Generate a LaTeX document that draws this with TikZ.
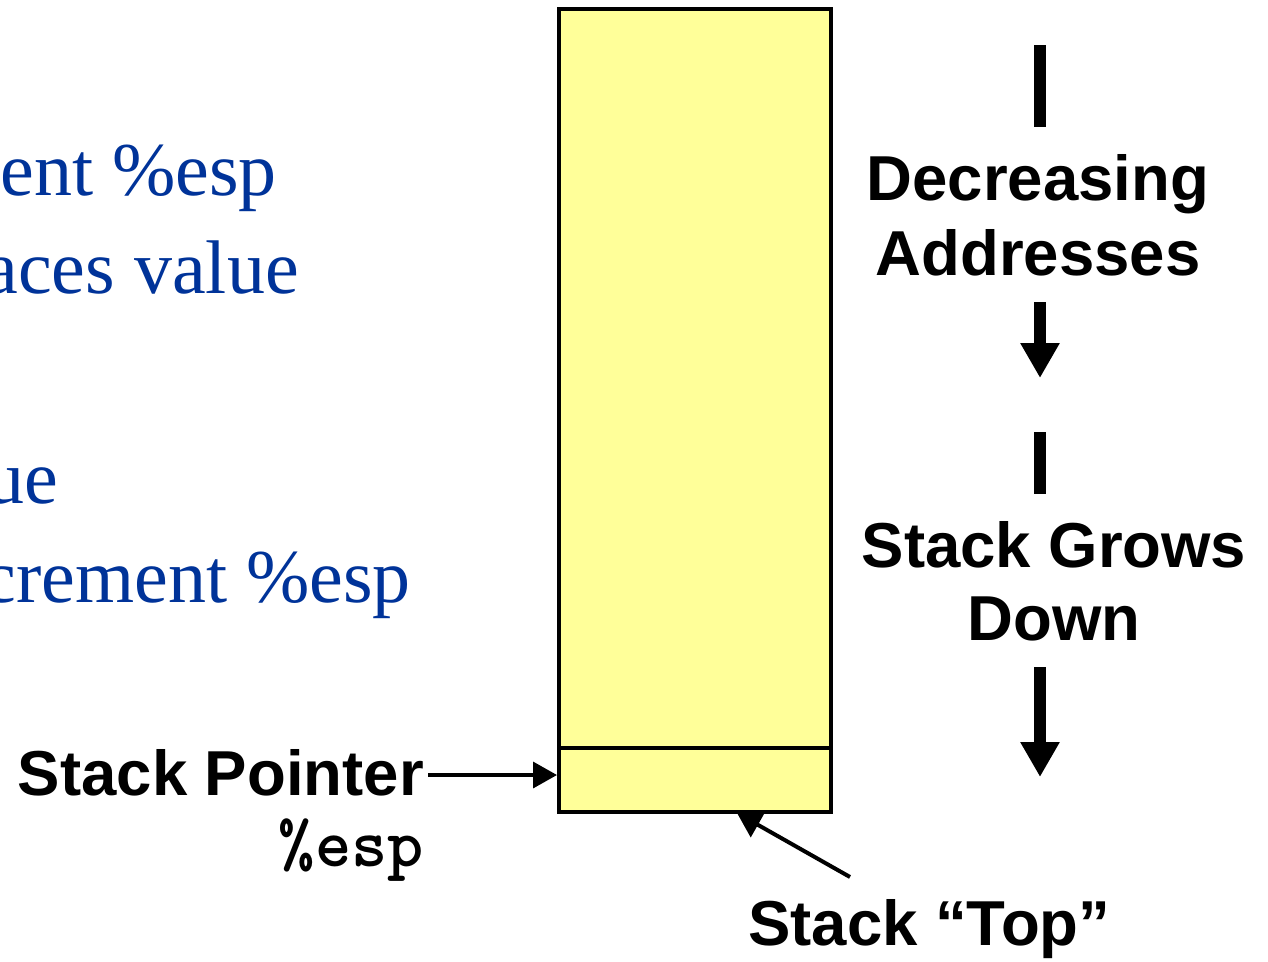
\documentclass[tikz,border=0pt]{standalone}
\usepackage{fontspec}
\setmainfont{Liberation Sans}
\newfontfamily\serifblue{Liberation Serif}
\usetikzlibrary{arrows.meta}
\definecolor{slideblue}{RGB}{0,51,153}
\definecolor{stackyellow}{RGB}{255,255,153}
\tikzset{
  bluetxt/.style={inner sep=0pt, anchor=base east, text=slideblue, font=\serifblue\fontsize{76}{80}\selectfont},
  blacktxt/.style={inner sep=0pt, font=\bfseries\fontsize{63.5}{72}\selectfont},
  cell/.style={draw=black, line width=4pt, fill=stackyellow, minimum width=272pt, inner sep=0pt},
  bar/.style={line width=12pt},
  bigarrow/.style={line width=12pt, -{Triangle[length=35pt,width=37pt]}},
  thinarrow/.style={line width=3.5pt, -{Triangle[length=24pt,width=26pt]}},
}
\begin{document}
\begin{tikzpicture}[x=1pt,y=-1pt]
\useasboundingbox (0,0) rectangle (1268,961);
% left blue text (cut off)
\node[bluetxt] (l1) at (277,195) {ment \%esp};
\node[bluetxt] (l2) at (299,293) {aces value};
\node[bluetxt] (l3) at (58,503) {ue};
\node[bluetxt] (l4) at (411,602) {crement \%esp};
% stack
\node[cell, minimum height=803pt] (stack) at (695,410.5) {};
\node[cell, minimum height=64pt] (topcell) at (695,780) {};
% stack pointer
\node[blacktxt, anchor=base east] (sp) at (424,795) {Stack Pointer};
\node[inner sep=0pt, anchor=base east, font=\ttfamily\bfseries\fontsize{69}{72}\selectfont] (esp) at (424,866) {\%esp};
\coordinate (sptip) at (557,775);
\draw[thinarrow] ([xshift=4pt]sp.east |- sptip) -- (sptip);
% stack top
\node[blacktxt, anchor=base west] (stop) at (748,945) {Stack “Top”};
\coordinate (stopfrom) at (850,877);
\coordinate (stopto) at (737,813);
\draw[line width=4pt, -{Triangle[length=24pt,width=28pt]}] (stopfrom) -- (stopto);
% right labels
\node[blacktxt, anchor=base] (dec) at (1038,200) {Decreasing};
\node[blacktxt, anchor=base] (addr) at (1038,275) {Addresses};
\coordinate (b1a) at (1040,45);
\coordinate (b1b) at (1040,127);
\draw[bar] (b1a) -- (b1b);
\coordinate (a1a) at (1040,302);
\coordinate (a1b) at (1040,378);
\draw[bigarrow] (a1a) -- (a1b);
\node[blacktxt, anchor=base] (grow) at (1054,567) {Stack Grows};
\node[blacktxt, anchor=base] (down) at (1054,640) {Down};
\coordinate (b2a) at (1040,432);
\coordinate (b2b) at (1040,494);
\draw[bar] (b2a) -- (b2b);
\coordinate (a2a) at (1040,667);
\coordinate (a2b) at (1040,777);
\draw[bigarrow] (a2a) -- (a2b);
\end{tikzpicture}
\end{document}
